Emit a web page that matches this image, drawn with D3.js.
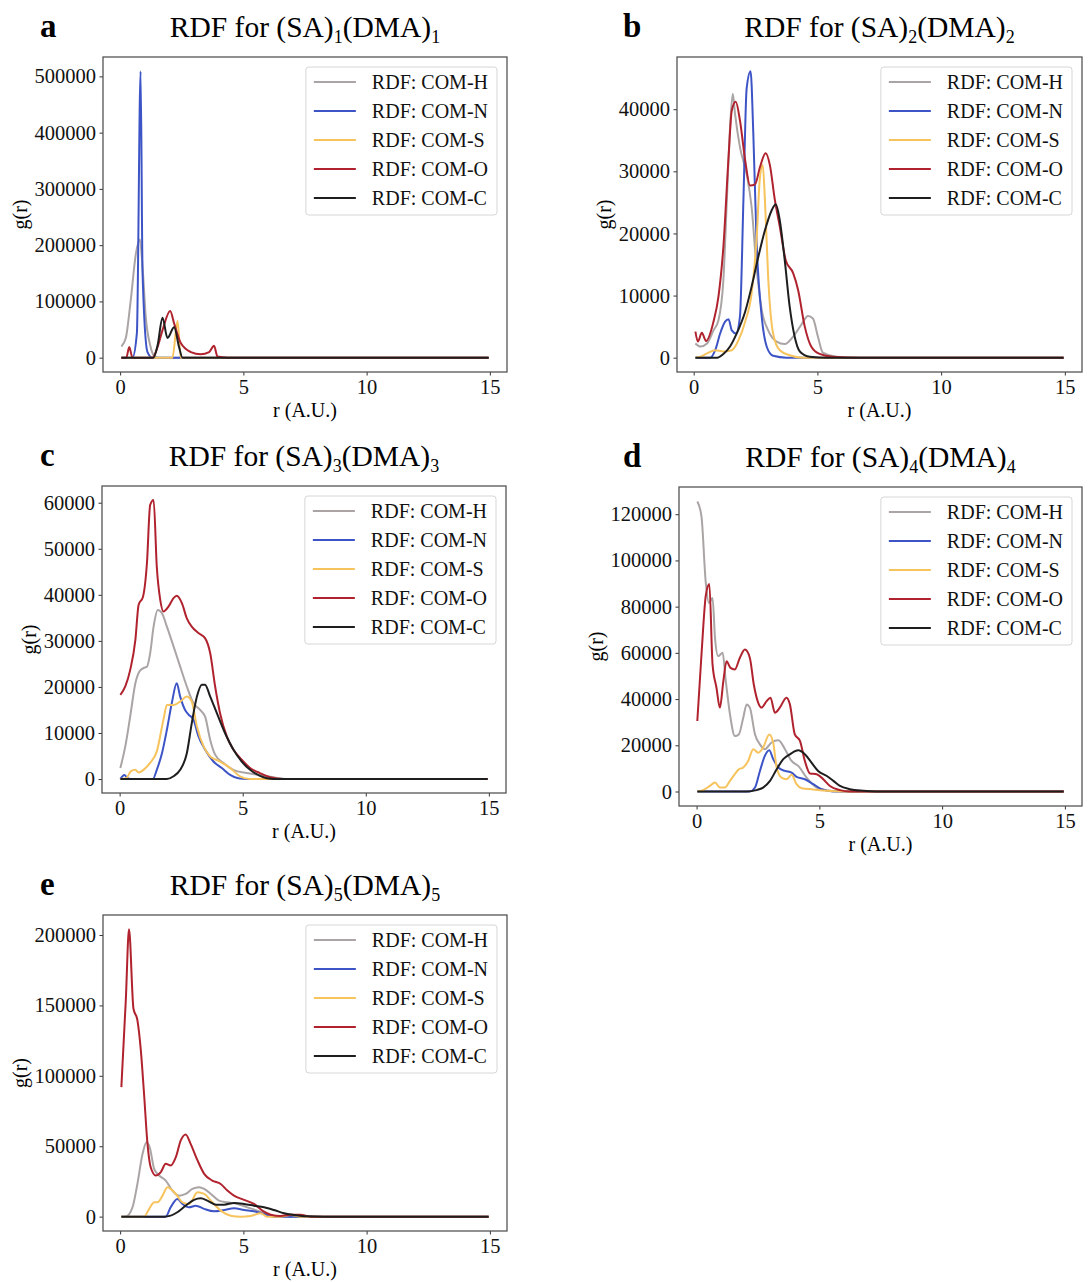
<!DOCTYPE html>
<html>
<head>
<meta charset="utf-8">
<script src="https://cdn.jsdelivr.net/npm/d3@7"></script>
<style>
  body { margin: 0; background: #fff; }
  text { font-family: "Liberation Serif", "Times New Roman", serif; }
</style>
</head>
<body>
<script>
// series names / colours (legend order = draw order)
var seriesNames = ["RDF: COM-H", "RDF: COM-N", "RDF: COM-S", "RDF: COM-O", "RDF: COM-C"];
var seriesColors = ["#aba4a4", "#3d54c6", "#f6c35c", "#b0232e", "#1e1e1e"];

var xTicks = [0, 5, 10, 15];

// (SA)1(DMA)1  -- [r, g(r)]
var aH = [[0.05,20000],[0.23,35000],[0.43,102000],[0.64,185000],[0.8,210000],[0.91,161000],[1.04,72000],[1.22,22000],[1.38,3000],[1.6,0],[14.95,0]];
var aN = [[0.05,0],[0.5,0],[0.68,44000],[0.83,509000],[0.91,150000],[1.11,10000],[1.31,0],[14.95,0]];
var aS = [[0.05,0],[2.12,0],[2.33,65000],[2.46,0],[14.95,0]];
var aO = [[0.05,0],[0.25,0],[0.37,19000],[0.5,0],[1.31,0],[1.52,19000],[1.72,49000],[2.03,83000],[2.19,61000],[2.46,26000],[2.87,10000],[3.27,6000],[3.61,10000],[3.81,21000],[3.95,2000],[4.35,0],[14.95,0]];
var aC = [[0.05,0],[1.35,0],[1.52,22000],[1.72,71000],[1.92,35000],[2.19,54000],[2.39,19000],[2.53,0],[14.95,0]];
var aTicks = [0, 100000, 200000, 300000, 400000, 500000];

// (SA)2(DMA)2
var bH = [[0.07,2300],[0.27,1800],[0.54,2300],[0.8,4400],[1.0,6000],[1.2,12500],[1.34,25300],[1.47,37100],[1.58,42500],[1.67,39300],[1.87,33900],[2.14,29600],[2.34,24300],[2.54,14600],[2.75,7700],[3.01,4400],[3.35,2600],[3.68,2200],[4.02,3400],[4.35,5300],[4.62,6700],[4.82,6300],[5.02,3400],[5.22,800],[5.76,150],[6.7,0],[14.95,0]];
var bN = [[0.07,0],[0.67,0],[0.87,1200],[1.07,3900],[1.27,5800],[1.41,6200],[1.54,4400],[1.71,3900],[1.87,6600],[2.01,25300],[2.14,43300],[2.3,46100],[2.41,36100],[2.54,18900],[2.75,6600],[2.95,1800],[3.21,300],[3.75,0],[14.95,0]];
var bS = [[0.07,0],[0.27,150],[0.54,700],[0.87,1200],[1.2,1000],[1.54,1200],[1.81,2800],[2.08,5800],[2.34,10300],[2.54,18900],[2.68,29100],[2.79,31000],[2.88,25400],[3.01,13000],[3.21,3900],[3.48,1200],[3.88,400],[4.42,0],[14.95,0]];
var bO = [[0.07,4200],[0.17,2600],[0.33,4000],[0.5,2700],[0.8,5800],[1.0,9800],[1.2,17800],[1.41,32300],[1.54,39800],[1.7,41200],[1.87,38200],[2.08,31800],[2.28,27700],[2.48,27900],[2.68,30700],[2.91,32900],[3.08,31000],[3.28,25400],[3.48,21100],[3.72,15700],[4.02,13600],[4.22,10900],[4.49,5000],[4.75,1800],[5.09,600],[5.62,150],[6.7,0],[14.95,0]];
var bC = [[0.07,0],[0.95,0],[1.2,600],[1.47,1800],[1.74,3900],[2.08,7400],[2.34,11400],[2.61,16200],[2.88,20500],[3.15,23700],[3.32,24700],[3.48,22100],[3.68,15700],[3.88,8200],[4.08,3400],[4.29,1000],[4.69,150],[5.36,0],[14.95,0]];
var bTicks = [0, 10000, 20000, 30000, 40000];

// (SA)3(DMA)3
var cH = [[0.03,2400],[0.23,7100],[0.43,13600],[0.64,20800],[0.81,23400],[0.97,24100],[1.11,24400],[1.24,27300],[1.38,33100],[1.55,36700],[1.72,36000],[1.92,33100],[2.19,28800],[2.46,24400],[2.73,20100],[3.0,16500],[3.27,15000],[3.47,13600],[3.68,8500],[3.88,5300],[4.22,3500],[4.62,2000],[5.16,1300],[5.7,900],[6.24,400],[6.78,0],[14.95,0]];
var cN = [[0.03,0],[0.19,900],[0.32,200],[0.45,0],[1.35,0],[1.51,2000],[1.72,5600],[1.92,10700],[2.12,16500],[2.32,20800],[2.46,17900],[2.66,15000],[2.8,14000],[3.0,12900],[3.2,9300],[3.47,6400],[3.81,3800],[4.15,2400],[4.49,900],[4.82,150],[5.16,0],[14.95,0]];
var cS = [[0.03,0],[0.27,200],[0.46,1700],[0.64,2000],[0.77,1400],[0.97,2000],[1.24,3500],[1.51,6000],[1.78,12900],[1.92,16100],[2.19,16100],[2.46,16800],[2.73,17900],[2.93,16800],[3.14,11400],[3.41,7100],[3.68,4900],[4.08,3800],[4.49,2400],[4.89,600],[5.3,0],[14.95,0]];
var cO = [[0.03,18300],[0.23,20100],[0.43,23700],[0.64,30200],[0.77,37800],[0.95,39600],[1.11,46900],[1.24,59500],[1.38,60600],[1.51,46100],[1.65,38900],[1.78,36400],[1.99,37500],[2.19,39300],[2.32,39800],[2.53,38200],[2.73,34900],[2.93,33100],[3.2,31700],[3.47,30600],[3.68,27300],[3.88,20100],[4.08,14300],[4.35,9300],[4.62,6400],[4.96,4200],[5.3,2400],[5.7,1300],[6.11,400],[6.65,0],[14.95,0]];
var cC = [[0.03,0],[1.92,0],[2.19,600],[2.46,2000],[2.73,5600],[2.93,12100],[3.14,17900],[3.34,20500],[3.47,20500],[3.68,17900],[3.95,14300],[4.28,10000],[4.62,6400],[4.96,3800],[5.3,2000],[5.7,700],[6.24,0],[14.95,0]];
var cTicks = [0, 10000, 20000, 30000, 40000, 50000, 60000];

// (SA)4(DMA)4
var dH = [[0.03,125500],[0.2,119000],[0.37,90900],[0.5,81600],[0.65,83700],[0.75,66500],[0.88,58600],[1.06,60000],[1.19,47800],[1.36,33400],[1.56,24000],[1.72,24700],[1.9,31900],[2.04,37700],[2.17,36300],[2.38,24700],[2.58,20400],[2.78,18300],[3.05,21200],[3.33,22200],[3.6,18300],[3.87,13200],[4.14,11100],[4.48,6000],[4.89,1700],[5.29,600],[6.0,0],[14.95,0]];
var dN = [[0.03,0],[2.17,0],[2.38,1700],[2.58,8900],[2.78,15400],[2.96,17800],[3.12,14000],[3.33,10400],[3.6,8900],[3.87,8200],[4.07,6300],[4.41,5300],[4.75,3200],[5.09,1000],[5.57,0],[14.95,0]];
var dS = [[0.03,0],[0.27,600],[0.54,2400],[0.75,3900],[0.95,1700],[1.15,1700],[1.36,4600],[1.56,7500],[1.72,9600],[1.9,10400],[2.1,13200],[2.31,18300],[2.51,16800],[2.71,19000],[2.96,24700],[3.12,21200],[3.26,10400],[3.46,6000],[3.66,5300],[3.87,7200],[4.07,3200],[4.28,1400],[4.75,900],[5.29,300],[6.0,0],[14.95,0]];
var dO = [[0.03,30500],[0.2,59300],[0.38,85200],[0.52,89800],[0.65,55000],[0.81,44900],[0.95,36300],[1.09,47800],[1.22,56400],[1.38,53500],[1.56,52800],[1.76,57800],[1.97,61400],[2.17,57800],[2.33,46300],[2.51,38400],[2.65,36300],[2.85,39100],[3.01,40600],[3.19,34100],[3.39,36300],[3.66,40600],[3.8,37700],[4.0,24700],[4.21,21900],[4.41,13200],[4.62,7800],[4.89,7500],[5.16,5300],[5.43,2400],[5.84,600],[6.24,0],[14.95,0]];
var dC = [[0.03,0],[2.04,0],[2.44,600],[2.71,1700],[2.99,4600],[3.26,9600],[3.53,14000],[3.8,16100],[4.14,17800],[4.41,16100],[4.68,12500],[4.95,8900],[5.29,6800],[5.57,4600],[5.84,2400],[6.24,1000],[6.79,300],[7.33,0],[14.95,0]];
var dTicks = [0, 20000, 40000, 60000, 80000, 100000, 120000];

// (SA)5(DMA)5
var eH = [[0.05,0],[0.23,0],[0.5,6600],[0.7,23200],[0.91,44600],[1.07,52900],[1.2,49300],[1.38,33900],[1.58,29200],[1.85,25600],[2.12,18500],[2.39,14900],[2.66,16100],[2.93,19700],[3.2,20900],[3.41,19700],[3.68,16100],[4.01,11400],[4.35,10200],[4.76,9000],[5.16,6600],[5.57,4300],[5.97,1400],[6.38,0],[14.95,0]];
var eN = [[0.05,0],[1.85,0],[2.05,6600],[2.32,12600],[2.53,9000],[2.8,6600],[3.07,7800],[3.41,5500],[3.81,3800],[4.22,4700],[4.62,5900],[5.03,4700],[5.43,3800],[5.84,1900],[6.24,0],[14.95,0]];
var eS = [[0.05,0],[0.97,0],[1.18,5500],[1.38,10200],[1.51,10200],[1.72,14900],[1.92,20900],[2.05,19700],[2.26,16100],[2.53,10200],[2.8,9000],[3.14,17300],[3.41,16100],[3.68,11400],[4.08,4300],[4.49,700],[4.89,0],[5.3,500],[5.7,2400],[5.97,0],[6.5,0],[6.92,1200],[7.32,0],[14.95,0]];
var eO = [[0.05,92000],[0.23,153700],[0.36,204000],[0.54,147800],[0.7,139500],[0.84,118100],[0.97,87300],[1.11,51700],[1.24,35100],[1.45,29200],[1.65,31600],[1.85,37500],[2.05,36300],[2.26,42200],[2.46,54100],[2.66,58400],[2.86,51700],[3.14,39900],[3.41,30400],[3.74,25600],[4.08,23200],[4.35,18500],[4.62,14900],[5.03,11900],[5.43,9000],[5.77,4300],[6.11,1400],[6.51,500],[6.92,1400],[7.32,1400],[7.73,0],[14.95,0]];
var eC = [[0.05,0],[1.78,0],[2.05,700],[2.32,3100],[2.66,7800],[3.0,11900],[3.27,13000],[3.54,11400],[3.88,8500],[4.22,8500],[4.62,9700],[5.03,9000],[5.43,7800],[5.84,6600],[6.24,4700],[6.65,2400],[7.05,1200],[7.59,200],[8.27,0],[14.95,0]];
var eTicks = [0, 50000, 100000, 150000, 200000];

// panel layout (pixel boxes of each axes frame)
var panels = [
  {letter: "a", n: "1", lx: 40,  x: 103, y: 57,  w: 404, h: 315, series: [aH, aN, aS, aO, aC], ticks: aTicks},
  {letter: "b", n: "2", lx: 623, x: 677, y: 57,  w: 405, h: 315, series: [bH, bN, bS, bO, bC], ticks: bTicks},
  {letter: "c", n: "3", lx: 40,  x: 102, y: 486, w: 404, h: 307, series: [cH, cN, cS, cO, cC], ticks: cTicks},
  {letter: "d", n: "4", lx: 623, x: 679, y: 487, w: 403, h: 319, series: [dH, dN, dS, dO, dC], ticks: dTicks},
  {letter: "e", n: "5", lx: 40,  x: 103, y: 915, w: 404, h: 316, series: [eH, eN, eS, eO, eC], ticks: eTicks}
];

var svg = d3.select("body").append("svg")
    .attr("width", 1091)
    .attr("height", 1282);

panels.forEach(function(p) {
  var all = [].concat.apply([], p.series);
  var xExt = d3.extent(all, function(d) { return d[0]; });
  var yExt = d3.extent(all, function(d) { return d[1]; });
  var xm = (xExt[1] - xExt[0]) * 0.05, ym = (yExt[1] - yExt[0]) * 0.05;

  var x = d3.scaleLinear().domain([xExt[0] - xm, xExt[1] + xm]).range([0, p.w]);
  var y = d3.scaleLinear().domain([yExt[0] - ym, yExt[1] + ym]).range([p.h, 0]);

  var g = svg.append("g").attr("transform", "translate(" + p.x + "," + p.y + ")");

  var line = d3.line()
      .x(function(d) { return x(d[0]); })
      .y(function(d) { return y(d[1]); })
      .curve(d3.curveMonotoneX);

  p.series.forEach(function(s, i) {
    g.append("path")
        .datum(s)
        .attr("fill", "none")
        .attr("stroke", seriesColors[i])
        .attr("stroke-width", 2)
        .attr("stroke-linejoin", "round")
        .attr("d", line);
  });

  // axes
  var xa = g.append("g")
      .attr("transform", "translate(0," + p.h + ")")
      .call(d3.axisBottom(x).tickValues(xTicks).tickSize(3.5).tickPadding(3.5).tickFormat(d3.format("d")));
  var ya = g.append("g")
      .call(d3.axisLeft(y).tickValues(p.ticks).tickSize(3.5).tickPadding(3.5).tickFormat(d3.format("d")));
  [xa, ya].forEach(function(a) {
    a.select(".domain").remove();
    a.attr("font-family", null).attr("font-size", null);
    a.selectAll("text").style("font-size", "20.5px").attr("fill", "#111");
    a.selectAll("line").attr("stroke", "#333");
  });

  // frame
  g.append("rect")
      .attr("width", p.w).attr("height", p.h)
      .attr("fill", "none").attr("stroke", "#555").attr("stroke-width", 1.3);

  // axis labels
  g.append("text")
      .attr("x", p.w / 2).attr("y", p.h + 45)
      .attr("text-anchor", "middle").style("font-size", "20px")
      .text("r (A.U.)");
  var bb = ya.node().getBBox();
  g.append("text")
      .attr("transform", "translate(" + (bb.x - 7.5) + "," + (p.h / 2) + ") rotate(-90)")
      .attr("text-anchor", "middle").style("font-size", "20px")
      .text("g(r)");

  // title with subscripts
  var t = g.append("text")
      .attr("x", p.w / 2).attr("y", -20)
      .attr("text-anchor", "middle").style("font-size", "29.5px");
  t.append("tspan").text("RDF for (SA)");
  t.append("tspan").attr("dy", 6).style("font-size", "18px").text(p.n);
  t.append("tspan").attr("dy", -6).text("(DMA)");
  t.append("tspan").attr("dy", 6).style("font-size", "18px").text(p.n);

  svg.append("text")
      .attr("x", p.lx).attr("y", p.y - 20)
      .style("font-size", "33px").style("font-weight", "bold")
      .text(p.letter);

  // legend
  var leg = g.append("g");
  var box = leg.append("rect")
      .attr("rx", 3).attr("ry", 3)
      .attr("fill", "#fff").attr("fill-opacity", 0.8)
      .attr("stroke", "#d6d6d6").attr("stroke-width", 1);
  var maxW = 0;
  seriesNames.forEach(function(name, i) {
    var cy = 15 + i * 29;
    leg.append("line")
        .attr("x1", 8).attr("x2", 50).attr("y1", cy).attr("y2", cy)
        .attr("stroke", seriesColors[i]).attr("stroke-width", 2);
    var tx = leg.append("text")
        .attr("x", 66).attr("y", cy).attr("dy", "0.35em")
        .style("font-size", "20px").attr("fill", "#111")
        .text(name);
    maxW = Math.max(maxW, tx.node().getComputedTextLength());
  });
  var bw = 66 + maxW + 9, bh = 148;
  box.attr("width", bw).attr("height", bh);
  leg.attr("transform", "translate(" + (p.w - 10 - bw) + ",10)");
});
</script>
</body>
</html>
